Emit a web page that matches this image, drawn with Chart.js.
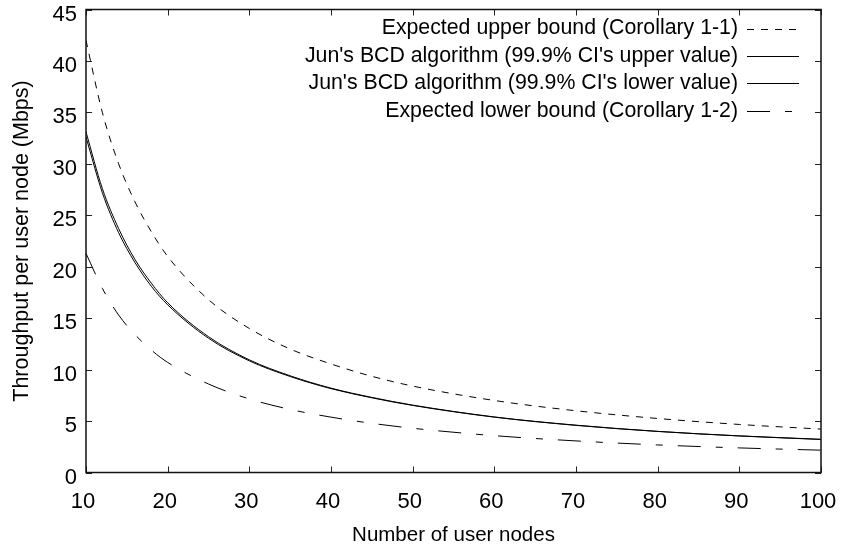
<!DOCTYPE html>
<html lang="en">
<head>
    <meta charset="UTF-8">
    <title>throughput</title>
    <style>
        body { margin: 0; background: #fff; }
    </style>
</head>
<body>
    <canvas id="myChart" width="849" height="552"></canvas>

    <script src="https://cdn.jsdelivr.net/npm/chart.js"></script>
    <script>
// number of user nodes
const nodes = [10, 12, 14, 16, 18, 20, 25, 30, 35, 40, 45, 50, 60, 70, 80, 90, 100]

// Mbps
const upperBound = [42.0, 35.0, 30.0, 26.3, 23.4, 21.0, 16.8, 14.0, 12.0, 10.55, 9.35, 8.4, 7.0, 6.0, 5.25, 4.67, 4.22]
const bcdUpper   = [33.1, 27.6, 23.7, 20.7, 18.4, 16.5, 13.2, 10.95, 9.4, 8.2, 7.3, 6.55, 5.4, 4.6, 4.0, 3.56, 3.23]
const bcdLower   = [32.6, 27.2, 23.3, 20.4, 18.1, 16.3, 13.05, 10.85, 9.33, 8.15, 7.26, 6.52, 5.38, 4.58, 3.99, 3.55, 3.21]
const lowerBound = [21.3, 17.9, 15.3, 13.4, 11.9, 10.7, 8.6, 7.15, 6.13, 5.38, 4.78, 4.3, 3.58, 3.07, 2.68, 2.39, 2.17]

const legendLabels = [
  'Expected upper bound (Corollary 1-1)',
  "Jun's BCD algorithm (99.9% CI's upper value)",
  "Jun's BCD algorithm (99.9% CI's lower value)",
  'Expected lower bound (Corollary 1-2)'
]
const dashes = [[7, 7], [], [], [23, 15, 7, 15]]

const fontFamily = "'Liberation Sans', Arial, sans-serif"

const toPoints = (ys) => nodes.map((x, i) => ({x: x, y: ys[i]}))

// gnuplot style: frame all round, ticks pointing inward, legend with sample on the right
const framePlugin = {
  id: 'frame',
  afterDraw(chart) {
    const {ctx, chartArea: a, scales: {x, y}} = chart
    ctx.save()
    ctx.strokeStyle = '#222'
    ctx.lineWidth = 1
    const tl = 6
    ctx.beginPath()
    y.ticks.forEach(t => {
      const py = Math.round(y.getPixelForValue(t.value)) + 0.5
      ctx.moveTo(a.left, py); ctx.lineTo(a.left + tl, py)
      ctx.moveTo(a.right, py); ctx.lineTo(a.right - tl, py)
    })
    x.ticks.forEach(t => {
      const px = Math.round(x.getPixelForValue(t.value)) + 0.5
      ctx.moveTo(px, a.bottom); ctx.lineTo(px, a.bottom - tl)
      ctx.moveTo(px, a.top); ctx.lineTo(px, a.top + tl)
    })
    ctx.stroke()
    ctx.lineWidth = 1.5
    ctx.strokeStyle = '#111'
    ctx.strokeRect(a.left, a.top, a.right - a.left, a.bottom - a.top)

    // legend
    ctx.font = '21.3px ' + fontFamily
    ctx.fillStyle = '#000'
    ctx.textAlign = 'right'
    ctx.textBaseline = 'middle'
    ctx.lineWidth = 1
    ctx.strokeStyle = '#000'
    legendLabels.forEach((lab, i) => {
      const ly = 28.5 + i * 27.4
      ctx.fillText(lab, 738, ly)
      ctx.setLineDash(dashes[i])
      ctx.beginPath()
      ctx.moveTo(747, Math.round(ly) + 0.5)
      ctx.lineTo(799, Math.round(ly) + 0.5)
      ctx.stroke()
    })
    ctx.setLineDash([])
    ctx.restore()
  }
}

const ctx = document.getElementById('myChart')

new Chart(ctx, {
  type: 'line',
  data: {
    datasets: [
      {label: legendLabels[0], data: toPoints(upperBound), borderDash: dashes[0]},
      {label: legendLabels[1], data: toPoints(bcdUpper), borderDash: dashes[1]},
      {label: legendLabels[2], data: toPoints(bcdLower), borderDash: dashes[2]},
      {label: legendLabels[3], data: toPoints(lowerBound), borderDash: dashes[3]}
    ]
  },
  options: {
    responsive: false,
    animation: false,
    devicePixelRatio: 1,
    layout: {padding: {top: 9.5, right: 28, left: 0, bottom: 0}},
    elements: {
      line: {borderColor: '#000', borderWidth: 1, cubicInterpolationMode: 'monotone', fill: false},
      point: {radius: 0}
    },
    plugins: {legend: {display: false}, tooltip: {enabled: false}},
    scales: {
      x: {
        type: 'linear',
        min: 10, max: 100,
        grid: {display: false, drawTicks: false},
        border: {display: false},
        ticks: {stepSize: 10, padding: 16, labelOffset: -3, color: '#000', font: {family: fontFamily, size: 22}},
        title: {display: true, text: 'Number of user nodes', color: '#000',
                font: {family: fontFamily, size: 20.5}, padding: {top: 0, bottom: 4}},
        afterFit(s) { s.height = 552 - 472.5; s.paddingLeft = 0; s.paddingRight = 0 }
      },
      y: {
        min: 0, max: 45,
        grid: {display: false, drawTicks: false},
        border: {display: false},
        ticks: {stepSize: 5, padding: 9, labelOffset: 5, color: '#000', font: {family: fontFamily, size: 22}},
        title: {display: true, text: 'Throughput per user node (Mbps)', color: '#000',
                font: {family: fontFamily, size: 21.5}, padding: {top: 9, bottom: 0}},
        afterFit(s) { s.width = 86; s.paddingTop = 0; s.paddingBottom = 0 }
      }
    }
  },
  plugins: [framePlugin]
})
    </script>
</body>
</html>
